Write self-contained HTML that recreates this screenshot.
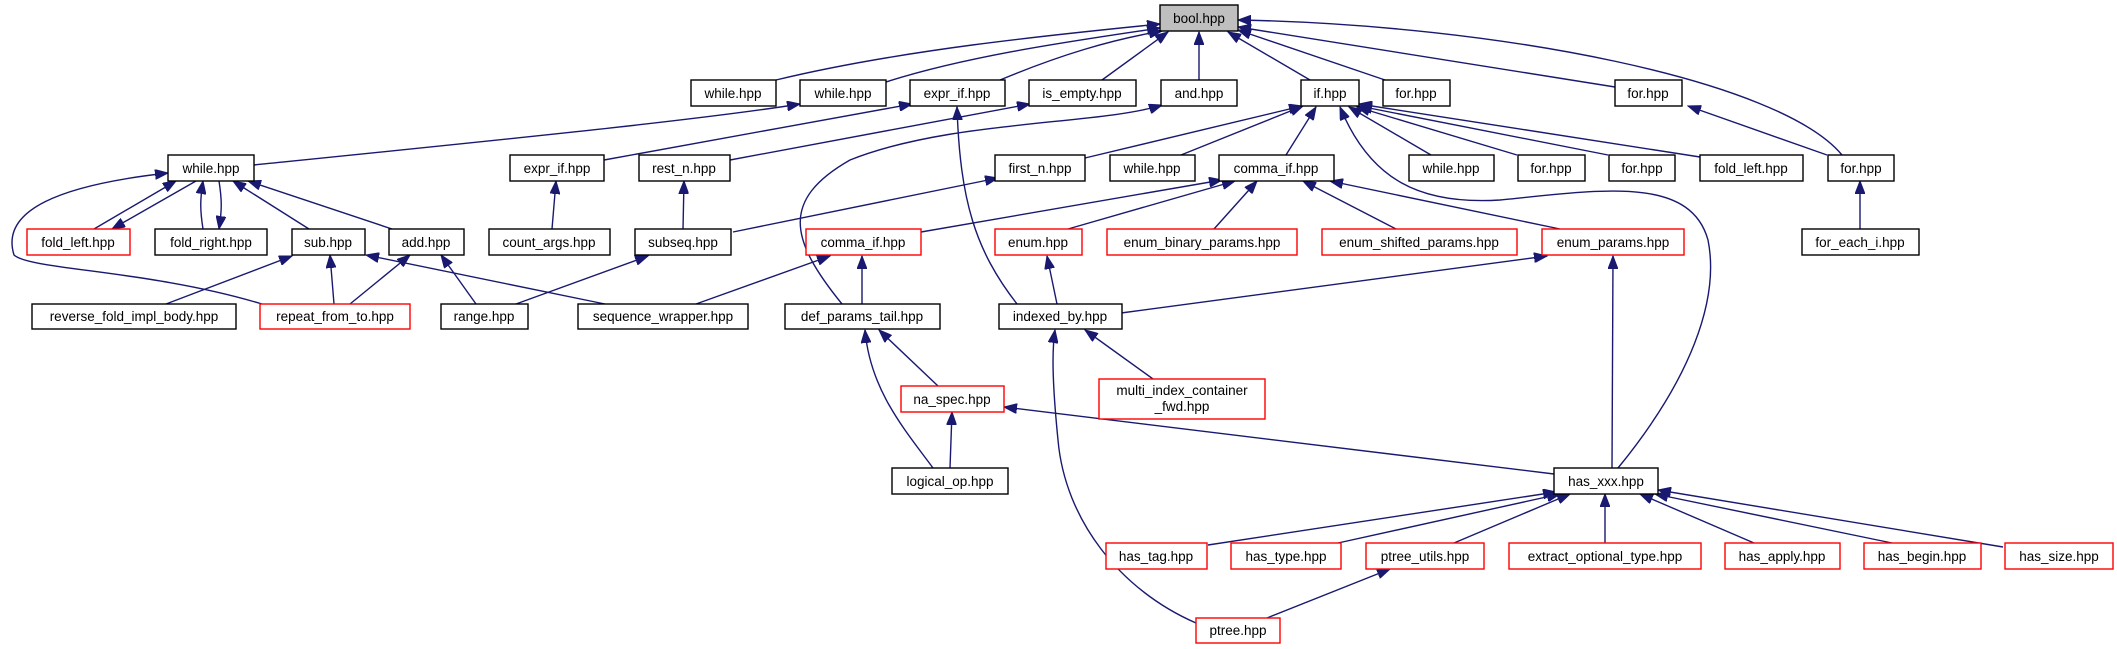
<!DOCTYPE html>
<html><head><meta charset="utf-8"><style>
html,body{margin:0;padding:0;background:#fff}
svg{display:block}
text{font-family:"Liberation Sans","DejaVu Sans",sans-serif;font-size:13.5px;fill:#000;text-anchor:middle}
.n{fill:#fff;stroke:#000;stroke-width:1.4}
.r{fill:#fff;stroke:#ff0000;stroke-width:1.4}
.e{fill:none;stroke:#191970;stroke-width:1.4;marker-end:url(#a)}
</style></head><body>
<svg width="2117" height="649" viewBox="0 0 2117 649" xmlns="http://www.w3.org/2000/svg">
<defs><marker id="a" markerUnits="userSpaceOnUse" markerWidth="14" markerHeight="10" refX="13" refY="5" orient="auto"><path d="M0,0 L13,5 L0,10 Z" fill="#191970" stroke="#191970"/></marker></defs>
<g>
<!-- bool children -->
<path class="e" d="M776,80 C900,50 1050,35 1160,24"/>
<path class="e" d="M886,82 C970,55 1080,40 1160,28"/>
<path class="e" d="M1000,80 C1060,55 1110,40 1162,31"/>
<path class="e" d="M1102,80 L1168,32"/>
<path class="e" d="M1199,80 L1199,32"/>
<path class="e" d="M1310,80 L1228,32"/>
<path class="e" d="M1385,80 L1238,30"/>
<path class="e" d="M1615,87 L1238,27"/>
<path class="e" d="M1842,155 C1780,80 1500,25 1238,20"/>
<!-- row2 to row1 -->
<path class="e" d="M254,165 C500,140 700,120 800,104"/>
<path class="e" d="M604,160 L912,104"/>
<path class="e" d="M730,160 L1030,104"/>
<path class="e" d="M842,304 C790,240 780,200 850,160 C950,120 1100,125 1162,105"/>
<path class="e" d="M1017,304 C975,250 960,200 957,107"/>
<path class="e" d="M1085,158 L1302,106"/>
<path class="e" d="M1181,155 L1303,106"/>
<path class="e" d="M1286,155 L1316,107"/>
<path class="e" d="M1618,468 C1690,380 1720,300 1708,240 C1690,175 1600,190 1500,200 C1420,205 1370,180 1340,107"/>
<path class="e" d="M1431,155 L1349,107"/>
<path class="e" d="M1517,155 L1357,107"/>
<path class="e" d="M1608,155 L1359,106"/>
<path class="e" d="M1700,157 L1359,104"/>
<path class="e" d="M1827,155 L1688,106"/>
<path class="e" d="M1860,229 L1860,181"/>
<!-- while c family -->
<path class="e" d="M94,229 L176,181"/>
<path class="e" d="M196,181 L112,229"/>
<path class="e" d="M203,229 C200,210 200,200 203,181"/>
<path class="e" d="M219,181 C222,200 222,210 219,229"/>
<path class="e" d="M309,229 L233,181"/>
<path class="e" d="M392,229 L248,181"/>
<path class="e" d="M262,304 C150,270 30,270 14,255 C0,210 60,185 168,173"/>
<path class="e" d="M552,229 L556,181"/>
<path class="e" d="M683,229 L684,181"/>
<path class="e" d="M733,232 L998,178"/>
<!-- comma_if black children -->
<path class="e" d="M921,232 L1222,180"/>
<path class="e" d="M1068,229 L1235,181"/>
<path class="e" d="M1214,229 L1257,181"/>
<path class="e" d="M1396,229 L1303,181"/>
<path class="e" d="M1560,229 L1330,181"/>
<!-- row4 to row3 -->
<path class="e" d="M166,304 L292,256"/>
<path class="e" d="M334,304 L330,255"/>
<path class="e" d="M350,304 L410,255"/>
<path class="e" d="M476,304 L441,255"/>
<path class="e" d="M605,304 L366,255"/>
<path class="e" d="M516,304 L648,256"/>
<path class="e" d="M696,304 L830,256"/>
<path class="e" d="M862,304 L862,256"/>
<path class="e" d="M1057,304 L1047,256"/>
<path class="e" d="M1121,313 L1547,256"/>
<path class="e" d="M1612,468 L1613,256"/>
<!-- lower -->
<path class="e" d="M938,386 L879,330"/>
<path class="e" d="M933,468 C905,430 870,390 865,330"/>
<path class="e" d="M950,468 L952,412"/>
<path class="e" d="M1153,379 L1085,330"/>
<path class="e" d="M1196,623 C1120,590 1065,520 1058,440 C1052,380 1052,350 1055,330"/>
<path class="e" d="M1554,474 L1004,407"/>
<path class="e" d="M1208,545 L1556,492"/>
<path class="e" d="M1338,543 L1560,494"/>
<path class="e" d="M1454,543 L1570,494"/>
<path class="e" d="M1605,543 L1605,494"/>
<path class="e" d="M1754,543 L1640,494"/>
<path class="e" d="M1892,543 L1655,494"/>
<path class="e" d="M2003,547 L1658,490"/>
<path class="e" d="M1267,618 L1390,569"/>
</g>
<g>
<rect x="1160" y="5" width="78" height="26" fill="#bfbfbf" stroke="#000" stroke-width="1.4"/><text x="1199" y="23">bool.hpp</text>
<rect class="n" x="691" y="80" width="85" height="26"/><text x="733" y="98">while.hpp</text>
<rect class="n" x="800" y="80" width="86" height="26"/><text x="843" y="98">while.hpp</text>
<rect class="n" x="910" y="80" width="95" height="26"/><text x="957" y="98">expr_if.hpp</text>
<rect class="n" x="1029" y="80" width="107" height="26"/><text x="1082" y="98">is_empty.hpp</text>
<rect class="n" x="1161" y="80" width="76" height="26"/><text x="1199" y="98">and.hpp</text>
<rect class="n" x="1301" y="80" width="58" height="26"/><text x="1330" y="98">if.hpp</text>
<rect class="n" x="1383" y="80" width="67" height="26"/><text x="1416" y="98">for.hpp</text>
<rect class="n" x="1615" y="80" width="67" height="26"/><text x="1648" y="98">for.hpp</text>

<rect class="n" x="168" y="155" width="86" height="26"/><text x="211" y="173">while.hpp</text>
<rect class="n" x="510" y="155" width="94" height="26"/><text x="557" y="173">expr_if.hpp</text>
<rect class="n" x="639" y="155" width="91" height="26"/><text x="684" y="173">rest_n.hpp</text>
<rect class="n" x="995" y="155" width="90" height="26"/><text x="1040" y="173">first_n.hpp</text>
<rect class="n" x="1110" y="155" width="85" height="26"/><text x="1152" y="173">while.hpp</text>
<rect class="n" x="1219" y="155" width="115" height="26"/><text x="1276" y="173">comma_if.hpp</text>
<rect class="n" x="1409" y="155" width="85" height="26"/><text x="1451" y="173">while.hpp</text>
<rect class="n" x="1518" y="155" width="67" height="26"/><text x="1551" y="173">for.hpp</text>
<rect class="n" x="1609" y="155" width="66" height="26"/><text x="1642" y="173">for.hpp</text>
<rect class="n" x="1700" y="155" width="103" height="26"/><text x="1751" y="173">fold_left.hpp</text>
<rect class="n" x="1828" y="155" width="66" height="26"/><text x="1861" y="173">for.hpp</text>

<rect class="r" x="27" y="229" width="103" height="26"/><text x="78" y="247">fold_left.hpp</text>
<rect class="n" x="155" y="229" width="112" height="26"/><text x="211" y="247">fold_right.hpp</text>
<rect class="n" x="292" y="229" width="73" height="26"/><text x="328" y="247">sub.hpp</text>
<rect class="n" x="389" y="229" width="75" height="26"/><text x="426" y="247">add.hpp</text>
<rect class="n" x="489" y="229" width="121" height="26"/><text x="549" y="247">count_args.hpp</text>
<rect class="n" x="635" y="229" width="96" height="26"/><text x="683" y="247">subseq.hpp</text>
<rect class="r" x="806" y="229" width="115" height="26"/><text x="863" y="247">comma_if.hpp</text>
<rect class="r" x="995" y="229" width="87" height="26"/><text x="1038" y="247">enum.hpp</text>
<rect class="r" x="1107" y="229" width="190" height="26"/><text x="1202" y="247">enum_binary_params.hpp</text>
<rect class="r" x="1322" y="229" width="195" height="26"/><text x="1419" y="247">enum_shifted_params.hpp</text>
<rect class="r" x="1542" y="229" width="142" height="26"/><text x="1613" y="247">enum_params.hpp</text>
<rect class="n" x="1802" y="229" width="117" height="26"/><text x="1860" y="247">for_each_i.hpp</text>

<rect class="n" x="32" y="304" width="204" height="25"/><text x="134" y="321">reverse_fold_impl_body.hpp</text>
<rect class="r" x="260" y="304" width="150" height="25"/><text x="335" y="321">repeat_from_to.hpp</text>
<rect class="n" x="441" y="304" width="87" height="25"/><text x="484" y="321">range.hpp</text>
<rect class="n" x="578" y="304" width="170" height="25"/><text x="663" y="321">sequence_wrapper.hpp</text>
<rect class="n" x="785" y="304" width="155" height="25"/><text x="862" y="321">def_params_tail.hpp</text>
<rect class="n" x="999" y="304" width="123" height="25"/><text x="1060" y="321">indexed_by.hpp</text>

<rect class="r" x="901" y="386" width="103" height="26"/><text x="952" y="404">na_spec.hpp</text>
<rect class="r" x="1099" y="379" width="166" height="40"/><text x="1182" y="395">multi_index_container</text><text x="1182" y="411">_fwd.hpp</text>
<rect class="n" x="892" y="468" width="116" height="26"/><text x="950" y="486">logical_op.hpp</text>
<rect class="n" x="1554" y="468" width="104" height="26"/><text x="1606" y="486">has_xxx.hpp</text>

<rect class="r" x="1106" y="543" width="101" height="26"/><text x="1156" y="561">has_tag.hpp</text>
<rect class="r" x="1231" y="543" width="110" height="26"/><text x="1286" y="561">has_type.hpp</text>
<rect class="r" x="1366" y="543" width="118" height="26"/><text x="1425" y="561">ptree_utils.hpp</text>
<rect class="r" x="1509" y="543" width="192" height="26"/><text x="1605" y="561">extract_optional_type.hpp</text>
<rect class="r" x="1725" y="543" width="115" height="26"/><text x="1782" y="561">has_apply.hpp</text>
<rect class="r" x="1864" y="543" width="117" height="26"/><text x="1922" y="561">has_begin.hpp</text>
<rect class="r" x="2005" y="543" width="108" height="26"/><text x="2059" y="561">has_size.hpp</text>
<rect class="r" x="1196" y="618" width="84" height="25"/><text x="1238" y="635">ptree.hpp</text>
</g>
</svg>
</body></html>
